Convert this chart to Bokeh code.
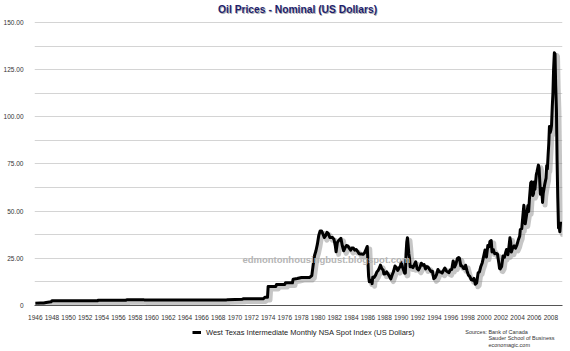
from bokeh.plotting import figure
from bokeh.layouts import column
from bokeh.models import ColumnDataSource, FixedTicker, Label, Legend, LegendItem
from bokeh.transform import dodge
from bokeh.embed import file_html
from bokeh.resources import INLINE

years = [
    1946.0, 1946.6, 1947.0, 1947.3, 1947.9, 1948.0, 1953.5, 1953.6, 1956.9, 1957.0,
    1959.0, 1959.1, 1969.0, 1969.1, 1970.9, 1971.0, 1973.4, 1973.6, 1973.92, 1974.0,
    1974.92, 1975.0, 1976.0, 1976.08, 1976.92, 1977.0, 1977.5, 1978.0, 1978.92,
    1979.0, 1979.25, 1979.42, 1979.58, 1979.75, 1979.92,
    1980.08, 1980.25, 1980.42, 1980.58, 1980.75, 1980.92,
    1981.08, 1981.25, 1981.42, 1981.58, 1981.75, 1981.92,
    1982.08, 1982.17, 1982.33, 1982.5, 1982.75, 1982.92,
    1983.08, 1983.25, 1983.42, 1983.58, 1983.75, 1983.92,
    1984.08, 1984.25, 1984.42, 1984.58, 1984.75, 1984.92,
    1985.08, 1985.25, 1985.42, 1985.58, 1985.75, 1985.92,
    1986.0, 1986.08, 1986.17, 1986.25, 1986.42, 1986.5, 1986.58, 1986.75, 1986.92,
    1987.08, 1987.25, 1987.42, 1987.5, 1987.67, 1987.83, 1987.92,
    1988.08, 1988.25, 1988.42, 1988.58, 1988.75, 1988.92,
    1989.08, 1989.25, 1989.42, 1989.58, 1989.75, 1989.92,
    1990.0, 1990.17, 1990.42, 1990.5, 1990.58, 1990.67, 1990.75, 1990.83, 1990.92,
    1991.0, 1991.08, 1991.25, 1991.42, 1991.58, 1991.75, 1991.92,
    1992.08, 1992.25, 1992.42, 1992.58, 1992.75, 1992.92,
    1993.08, 1993.25, 1993.42, 1993.58, 1993.75, 1993.92,
    1994.08, 1994.25, 1994.42, 1994.58, 1994.75, 1994.92,
    1995.08, 1995.25, 1995.42, 1995.58, 1995.75, 1995.92,
    1996.08, 1996.25, 1996.42, 1996.58, 1996.75, 1996.92,
    1997.0, 1997.17, 1997.33, 1997.5, 1997.67, 1997.75, 1997.92,
    1998.08, 1998.25, 1998.42, 1998.58, 1998.75, 1998.92,
    1999.08, 1999.25, 1999.42, 1999.58, 1999.75, 1999.92,
    2000.08, 2000.25, 2000.42, 2000.58, 2000.67, 2000.83, 2000.92,
    2001.08, 2001.25, 2001.42, 2001.58, 2001.75, 2001.83, 2001.92,
    2002.08, 2002.25, 2002.42, 2002.58, 2002.67, 2002.83, 2002.92,
    2003.08, 2003.17, 2003.25, 2003.42, 2003.58, 2003.75, 2003.92,
    2004.08, 2004.25, 2004.33, 2004.5, 2004.58, 2004.75, 2004.92,
    2005.08, 2005.25, 2005.33, 2005.42, 2005.58, 2005.67, 2005.83, 2005.92,
    2006.0, 2006.08, 2006.25, 2006.33, 2006.5, 2006.58, 2006.75, 2006.83, 2006.92,
    2007.0, 2007.08, 2007.25, 2007.42, 2007.5, 2007.58, 2007.67, 2007.75, 2007.83, 2007.92,
    2008.0, 2008.08, 2008.17, 2008.25, 2008.33, 2008.42, 2008.5, 2008.58, 2008.67,
    2008.75, 2008.83, 2008.92,
    2009.0, 2009.08, 2009.17,
]
prices = [
    1.17, 1.27, 1.37, 1.62, 1.97, 2.57, 2.57, 2.82, 2.82, 3.07,
    3.07, 2.97, 2.97, 3.07, 3.35, 3.56, 3.56, 4.31, 4.31, 10.11,
    10.11, 11.16, 11.16, 12.0, 12.0, 13.9, 14.3, 14.85, 14.85,
    14.85, 15.85, 21.75, 26.5, 29.0, 32.5,
    37.0, 39.5, 39.5, 38.0, 36.0, 37.0,
    38.8, 38.0, 36.0, 36.0, 36.0, 35.0,
    31.5, 28.5, 33.5, 34.5, 35.6, 31.7,
    29.0, 30.6, 31.8, 31.6, 30.4, 29.3,
    30.5, 30.5, 29.3, 29.6, 28.8, 27.5,
    27.3, 27.3, 27.1, 27.8, 29.5, 31.3,
    22.9, 15.5, 12.6, 12.8, 13.5, 11.6, 15.0, 14.9, 16.1,
    17.8, 18.7, 20.3, 21.4, 19.5, 18.8, 16.7,
    16.8, 17.9, 16.7, 15.5, 14.1, 16.3,
    18.1, 20.9, 20.1, 18.6, 19.9, 21.1,
    22.9, 20.3, 17.1, 17.2, 27.2, 33.7, 35.9, 32.3, 27.3,
    25.2, 20.5, 20.8, 20.1, 21.7, 23.2, 19.5,
    18.8, 20.2, 22.4, 21.4, 21.7, 19.4,
    20.6, 20.3, 19.1, 18.0, 18.2, 14.2,
    14.8, 16.4, 19.1, 17.9, 17.7, 17.2,
    18.5, 19.9, 18.4, 17.8, 17.4, 19.0,
    19.1, 23.6, 20.4, 21.9, 24.9, 25.4,
    25.2, 21.0, 20.9, 19.6, 19.6, 21.3, 18.3,
    16.1, 15.4, 13.7, 13.4, 14.4, 11.3,
    12.0, 17.3, 17.9, 20.7, 22.7, 26.1,
    29.4, 25.7, 31.8, 31.2, 33.9, 34.4, 28.4,
    29.6, 27.4, 27.6, 27.2, 22.2, 19.6, 19.4,
    20.7, 26.2, 25.6, 28.4, 29.7, 26.9, 29.4,
    35.9, 33.5, 28.3, 30.7, 31.6, 30.4, 32.1,
    34.7, 36.7, 40.3, 40.7, 44.9, 53.1, 43.3,
    48.0, 53.0, 49.8, 56.3, 65.0, 65.6, 58.3, 59.4,
    65.5, 61.6, 69.4, 70.8, 74.4, 73.0, 58.9, 59.1, 62.0,
    54.6, 59.3, 63.9, 67.5, 74.1, 72.4, 79.9, 85.8, 94.8, 91.7,
    92.9, 95.4, 105.4, 112.6, 125.4, 133.9, 133.4, 116.7, 104.1,
    76.6, 57.3, 41.1,
    41.7, 39.1, 44.5,
]

y_ticks = [0, 25, 50, 75, 100, 125, 150]
y_tick_labels = ["0", "25.00", "50.00", "75.00", "100.00", "125.00", "150.00"]
y_minor = [12.5, 37.5, 62.5, 87.5, 112.5, 137.5]
x_ticks = list(range(1946, 2009, 2))

title_text = "Oil Prices - Nominal (US Dollars)"
series_name = "West Texas Intermediate Monthly NSA Spot Index (US Dollars)"
sources_head = "Sources:"
sources = ["Bank of Canada", "Sauder School of Business", "economagic.com"]
watermark = "edmontonhousingbust.blogspot.com"

FONT = "Liberation Sans"
W = 570
TOP_H = 16
MAIN_H = 306
BOT_H = 351 - TOP_H - MAIN_H


def strip(h):
    f = figure(width=W, height=h, output_backend="svg", toolbar_location=None,
               x_range=(0, W), y_range=(h, 0), x_axis_type=None, y_axis_type=None,
               min_border=0, min_border_left=0, min_border_right=0,
               min_border_top=0, min_border_bottom=0)
    f.outline_line_color = None
    f.grid.visible = False
    f.background_fill_color = "white"
    f.border_fill_color = "white"
    return f


# ---------------- title strip ----------------
top = strip(TOP_H)
top.add_layout(Label(x=285, y=10, text=title_text, text_align="center",
                     text_baseline="middle", text_font=FONT, text_font_size="10.3px",
                     text_font_style="bold", text_color="#8a8a8a", text_alpha=0.7))
top.add_layout(Label(x=284, y=9, text=title_text, text_align="center",
                     text_baseline="middle", text_font=FONT, text_font_size="10.3px",
                     text_font_style="bold", text_color="#1e1e6e"))

# ---------------- main chart ----------------
src = ColumnDataSource(data=dict(x=years, y=prices))

p = figure(width=W, height=MAIN_H, output_backend="svg", toolbar_location=None,
           x_range=(1945.9, 2009.4), y_range=(0, 150.5),
           min_border_left=32, min_border_right=8, min_border_top=5,
           min_border_bottom=MAIN_H - (307 - TOP_H))
p.outline_line_color = None
p.background_fill_color = "white"
p.border_fill_color = "white"

p.xgrid.grid_line_color = None
p.ygrid.grid_line_color = "#d4d4d4"
p.ygrid.grid_line_width = 1
p.ygrid.minor_grid_line_color = "#d4d4d4"
p.ygrid.minor_grid_line_width = 1

p.yaxis.ticker = FixedTicker(ticks=y_ticks, minor_ticks=y_minor)
p.yaxis.major_label_overrides = {t: l for t, l in zip(y_ticks, y_tick_labels)}
p.yaxis.axis_line_color = None
p.yaxis.major_tick_line_color = None
p.yaxis.minor_tick_line_color = None
p.yaxis.major_label_text_font = FONT
p.yaxis.major_label_text_font_size = "6.5px"
p.yaxis.major_label_text_color = "#333333"
p.yaxis.major_label_standoff = 5

p.xaxis.ticker = FixedTicker(ticks=x_ticks)
p.xaxis.axis_line_color = "#555555"
p.xaxis.axis_line_width = 1
p.xaxis.major_tick_line_color = None
p.xaxis.minor_tick_line_color = None
p.xaxis.major_label_text_font = FONT
p.xaxis.major_label_text_font_size = "6.5px"
p.xaxis.major_label_text_color = "#333333"
p.xaxis.major_label_standoff = 3

p.add_layout(Label(x=1981.0, y=24.5, text=watermark, text_align="center",
                   text_baseline="middle", text_font=FONT, text_font_size="9.5px",
                   text_font_style="bold", text_color="#b5b5b5"))

p.line(x=dodge("x", 0.3), y=dodge("y", -1.4), source=src, line_color="#808080",
       line_alpha=0.45, line_width=5, line_join="round")
p.line("x", "y", source=src, line_color="black", line_width=3, line_join="round")

# ---------------- legend / sources strip ----------------
bot = strip(BOT_H)
# legend key renderer: a line style only (its points lie outside the strip's view)
key = bot.line(x=[-50, -40], y=[-50, -50], line_color="black", line_width=3)
legend = Legend(items=[LegendItem(label=series_name, renderers=[key])],
                location=(158, BOT_H - 15), orientation="horizontal",
                glyph_width=9, glyph_height=10, label_standoff=5, padding=0,
                margin=0, spacing=0, border_line_color=None,
                background_fill_alpha=0, label_text_font=FONT,
                label_text_font_size="7.5px", label_text_color="#222222",
                label_height=10, label_text_baseline="middle")
bot.add_layout(legend, "center")

y0 = 331 - (TOP_H + MAIN_H)
bot.add_layout(Label(x=465, y=y0, text=sources_head, text_align="left",
                     text_baseline="middle", text_font=FONT, text_font_size="5.5px",
                     text_color="#333333"))
for i, s in enumerate(sources):
    bot.add_layout(Label(x=490, y=y0 + 6.7 * i, text=s, text_align="left",
                         text_baseline="middle", text_font=FONT,
                         text_font_size="5.5px", text_color="#333333"))

layout = column(top, p, bot, spacing=0)
open("out.html", "w").write(file_html(layout, INLINE))
